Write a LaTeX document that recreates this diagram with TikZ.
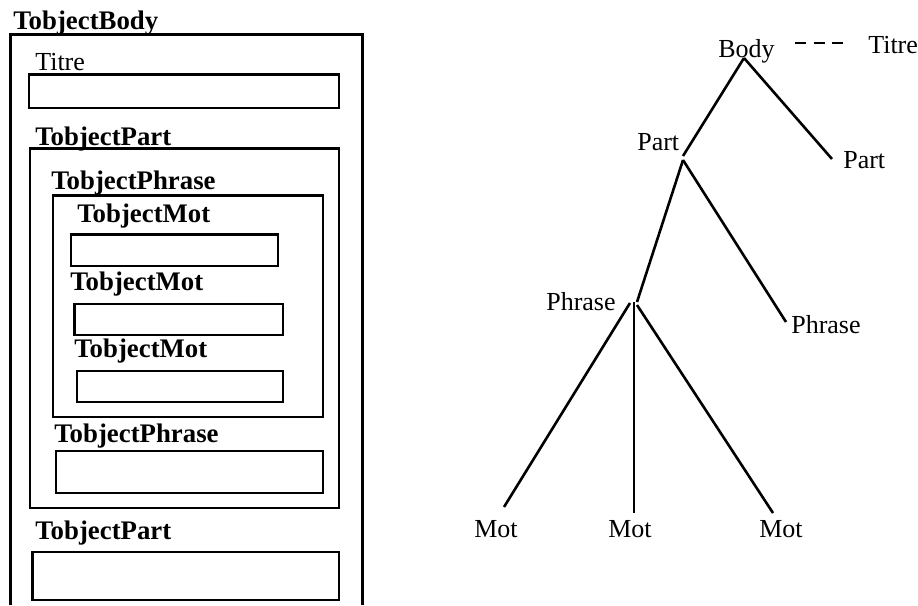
\documentclass[tikz,border=0pt]{standalone}
\usepackage{fontspec}
\setmainfont{Liberation Serif}
\begin{document}
\begin{tikzpicture}[x=1pt, y=-1pt, line width=2.6pt, line join=miter,
  lbl/.style={anchor=base west, inner sep=0pt, font=\fontsize{26}{31}\selectfont},
  blbl/.style={anchor=base west, inner sep=0pt, font=\fontsize{26.8}{32}\selectfont\bfseries},
  field/.style={draw, line width=2.6pt},
  branch/.style={line width=2.6pt}]
\useasboundingbox (0,0) rectangle (918,605);

% ---------- nested object frames ----------
\node[blbl] (bodyT) at (12,29) {TobjectBody};
\draw (10.5,605) -- (10.5,34.5) -- (362.5,34.5) -- (362.5,605);

\node[lbl] (titreT) at (34,70) {Titre};
\draw[field] (29,74.5) rectangle (339,108);

\node[blbl] (partT) at (34,145) {TobjectPart};
\draw[field] (30,148.5) rectangle (339,508);

\node[blbl] (phraseT) at (50,189) {TobjectPhrase};
\draw[field] (53,195.5) rectangle (323,417);

\node[blbl] (motT1) at (76,222) {TobjectMot};
\draw[field] (71,234.7) rectangle (278,266);

\node[blbl] (motT2) at (69,290) {TobjectMot};
\draw[field] (74.7,304) rectangle (283,335);

\node[blbl] (motT3) at (73,357) {TobjectMot};
\draw[field] (77,371) rectangle (283,402);

\node[blbl] (phraseT2) at (53,442) {TobjectPhrase};
\draw[field] (55.8,451) rectangle (323,493);

\node[blbl] (partT2) at (34,539) {TobjectPart};
\draw[field] (32.5,552) rectangle (339,600);

% ---------- tree ----------
\node[lbl] (body) at (717,57) {Body};
\node[lbl] (titre) at (867,53) {Titre};
\node[lbl] (partL) at (636,150) {Part};
\node[lbl] (partR) at (842,168) {Part};
\node[lbl] (phraseL) at (545,310) {Phrase};
\node[lbl] (phraseR) at (790,333) {Phrase};
\node[lbl] (mot1) at (473,537) {Mot};
\node[lbl] (mot2) at (607,537) {Mot};
\node[lbl] (mot3) at (758,537) {Mot};

\coordinate (bodyJ) at (744,58);
\coordinate (titreA) at (795,43);
\coordinate (titreB) at (843,43);
\coordinate (partLin) at (683,156);
\coordinate (partLJ) at (683,160);
\coordinate (partRin) at (832,159);
\coordinate (phraseLin) at (637,302);
\coordinate (phraseRin) at (786,322);
\coordinate (phJ1) at (630,303);
\coordinate (phJ2) at (634,302);
\coordinate (phJ3) at (637,305);
\coordinate (mot1in) at (504,507);
\coordinate (mot2in) at (634,513);
\coordinate (mot3in) at (773,513);

\draw[branch, dash pattern=on 11pt off 7.5pt] (titreA) -- (titreB);
\draw[branch] (bodyJ) -- (partLin);
\draw[branch] (bodyJ) -- (partRin);
\draw[branch] (partLJ) -- (phraseLin);
\draw[branch] (partLJ) -- (phraseRin);
\draw[branch] (phJ1) -- (mot1in);
\draw[branch] (phJ2) -- (mot2in);
\draw[branch] (phJ3) -- (mot3in);
\end{tikzpicture}
\end{document}
